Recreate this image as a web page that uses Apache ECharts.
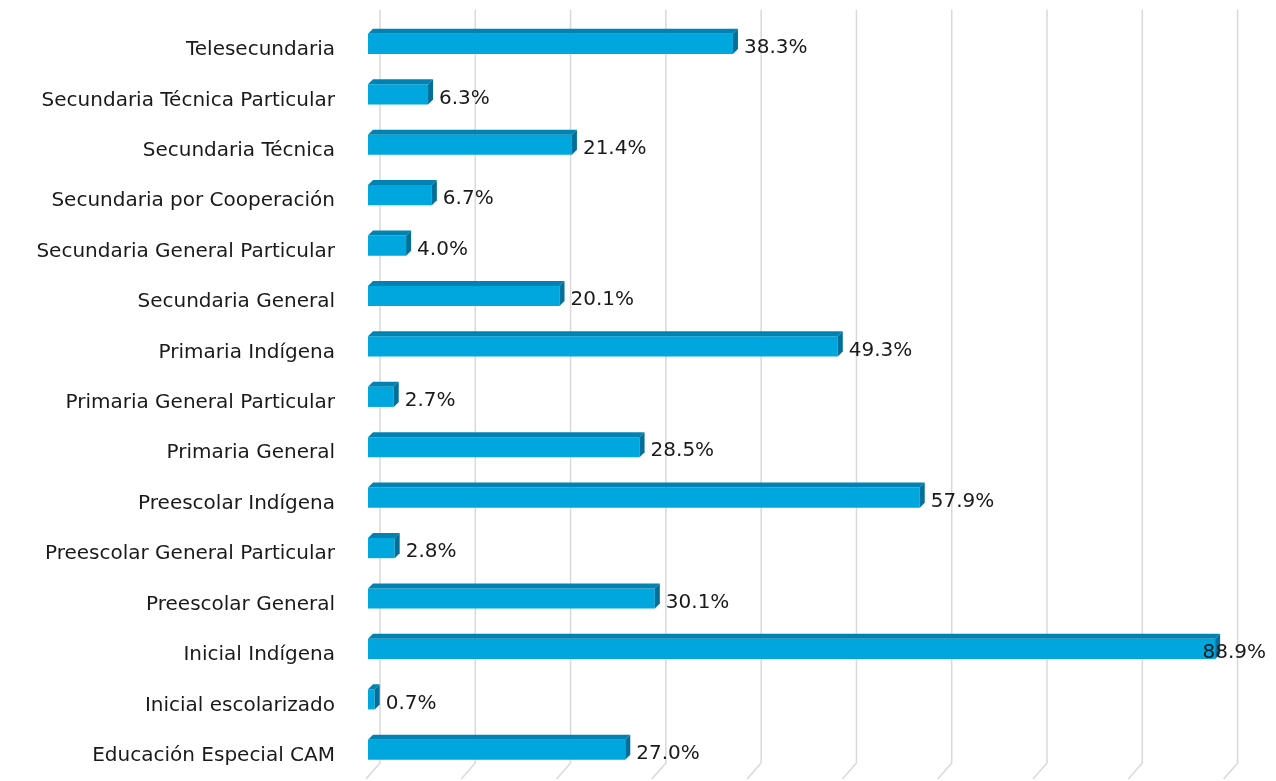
<!DOCTYPE html>
<html>
<head>
<meta charset="utf-8">
<script src="https://cdn.jsdelivr.net/npm/echarts@6/dist/echarts.min.js"></script>
<style>html,body{margin:0;padding:0;background:#fff;}#c{width:1276px;height:781px;}</style>
</head>
<body>
<div id="c"></div>
<script>
const categories = [
  'Telesecundaria',
  'Secundaria Técnica Particular',
  'Secundaria Técnica',
  'Secundaria por Cooperación',
  'Secundaria General Particular',
  'Secundaria General',
  'Primaria Indígena',
  'Primaria General Particular',
  'Primaria General',
  'Preescolar Indígena',
  'Preescolar General Particular',
  'Preescolar General',
  'Inicial Indígena',
  'Inicial escolarizado',
  'Educación Especial CAM'
];
const values = [38.3, 6.3, 21.4, 6.7, 4.0, 20.1, 49.3, 2.7, 28.5, 57.9, 2.8, 30.1, 88.9, 0.7, 27.0];
const gridTicks = [0, 10, 20, 30, 40, 50, 60, 70, 80, 90];

const FONT = 'DejaVu Sans';
const FRONT = '#00A6DE';
const TOP = '#0083B2';
const SIDE = '#00709A';
const D = 5;
const BAR_SHIFT = -6;

const chart = echarts.init(document.getElementById('c'), null, {renderer: 'canvas'});

chart.setOption({
  animation: false,
  backgroundColor: '#ffffff',
  grid: {left: 368, right: 50.4, top: 24.7, bottom: -2.3},
  xAxis: {
    type: 'value', min: 0, max: 90, interval: 10,
    axisLabel: {show: false}, axisLine: {show: false}, axisTick: {show: false},
    splitLine: {show: false}
  },
  yAxis: {
    type: 'category', data: categories, inverse: true,
    axisLine: {show: false}, axisTick: {show: false},
    axisLabel: {fontFamily: FONT, fontSize: 20, color: '#1a1a1a', margin: 33}
  },
  series: [
    {
      type: 'custom', z: 1, silent: true,
      data: gridTicks.map(t => [t, 0]),
      encode: {x: 0, y: 1},
      renderItem: function (params, api) {
        const cs = params.coordSys;
        const x = api.coord([api.value(0), 0])[0];
        const bottom = cs.y + cs.height;
        return {
          type: 'polyline',
          shape: {points: [[x + 12, cs.y - 15], [x + 12, bottom - 18], [x - 2, bottom - 2]]},
          style: {stroke: '#D9D9D9', lineWidth: 1.5, fill: null}
        };
      }
    },
    {
      type: 'custom', z: 2, silent: true,
      data: values.map((v, i) => [v, i]),
      encode: {x: 0, y: 1},
      renderItem: function (params, api) {
        const v = api.value(0);
        const idx = api.value(1);
        const p0 = api.coord([0, idx]);
        const p1 = api.coord([v, idx]);
        const h = api.size([0, 1])[1] * 0.40;
        const x0 = p0[0], x1 = p1[0], yc = p0[1] + BAR_SHIFT;
        const yt = yc - h / 2, yb = yc + h / 2;
        const label = v.toFixed(1) + '%';
        let tx = x1 + D + 6, align = 'left';
        const right = api.getWidth() - 10;
        if (tx + 70 > right) { tx = right; align = 'right'; }
        return {
          type: 'group',
          children: [
            {type: 'rect', shape: {x: x0, y: yt, width: x1 - x0, height: h}, style: {fill: FRONT}},
            {type: 'polygon', shape: {points: [[x0, yt], [x0 + D, yt - D], [x1 + D, yt - D], [x1, yt]]}, style: {fill: TOP}},
            {type: 'polygon', shape: {points: [[x1, yt], [x1 + D, yt - D], [x1 + D, yb - D], [x1, yb]]}, style: {fill: SIDE}},
            {type: 'text', z2: 10, style: {text: label, x: tx, y: yc + 4, align: align, verticalAlign: 'middle',
              fontFamily: FONT, fontSize: 20, fill: '#1a1a1a'}}
          ]
        };
      }
    }
  ]
});
</script>
</body>
</html>
